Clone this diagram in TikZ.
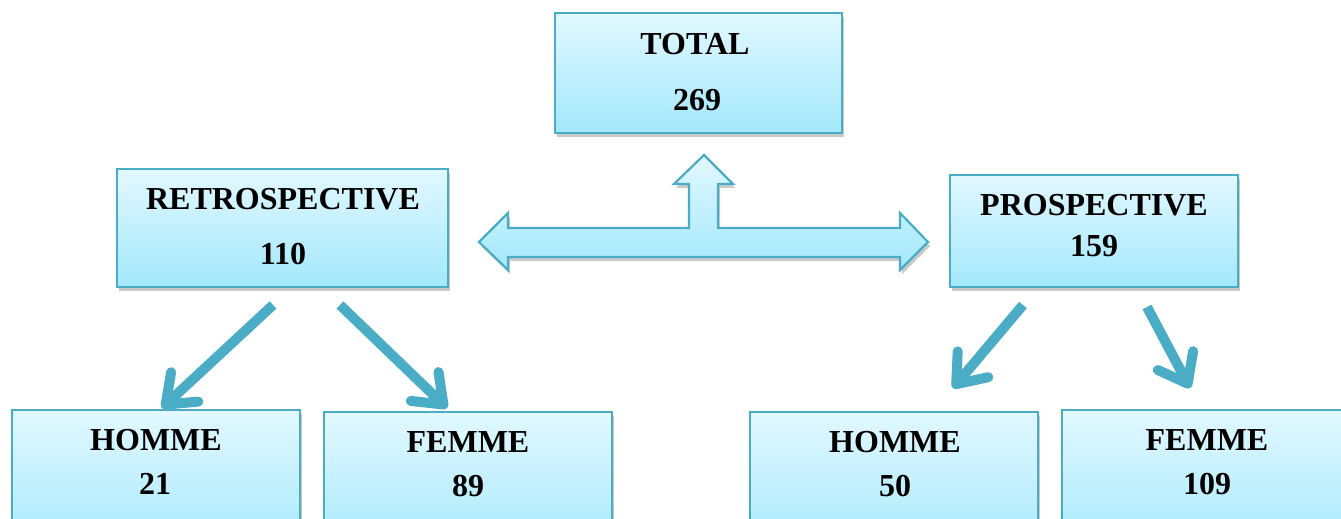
\documentclass[tikz,border=0pt]{standalone}
\usepackage{fontspec}
\setmainfont{Liberation Serif}
\usetikzlibrary{arrows.meta,shadows}
\definecolor{edgec}{RGB}{75,172,198}
\definecolor{topc}{RGB}{226,248,255}
\definecolor{botc}{RGB}{163,232,252}
\begin{document}
\begin{tikzpicture}[x=0.5pt,y=-0.5pt,
  box/.style={draw=edgec, line width=1.1pt, top color=topc, bottom color=botc,
    drop shadow={shadow xshift=1pt, shadow yshift=-2pt, opacity=0.3, fill=black!70}},
  boxnode/.style={box, rectangle, inner sep=0pt},
  lbl/.style={font=\fontsize{16}{18}\selectfont\bfseries, text=black, inner sep=0pt},
  fatarrow/.style={draw=edgec, line width=5pt, line cap=butt,
    -{Straight Barb[length=13pt,width=20pt,round]}}]
\useasboundingbox (0,0) rectangle (1341,519);
\clip (0,0) rectangle (1341,519);
% boxes
\node[boxnode, minimum width=143.5pt, minimum height=60pt] (total) at (698.5,73) {};
\node[boxnode, minimum width=165.5pt, minimum height=59pt] (retro) at (282.5,228) {};
\node[boxnode, minimum width=144pt, minimum height=56pt] (prosp) at (1094,231) {};
\node[boxnode, minimum width=144pt, minimum height=75pt] (hl) at (156,485) {};
\node[boxnode, minimum width=144pt, minimum height=75pt] (fl) at (468,487) {};
\node[boxnode, minimum width=144pt, minimum height=75pt] (hr) at (894,487) {};
\node[boxnode, minimum width=144pt, minimum height=75pt] (fr) at (1206,485) {};
% texts
\node[lbl] (totalt) at (695,44) {TOTAL};
\node[lbl] (totaln) at (697,100) {269};
\node[lbl] (retrot) at (283,199) {RETROSPECTIVE};
\node[lbl] (retron) at (283,254) {110};
\node[lbl] (prospt) at (1094,205) {PROSPECTIVE};
\node[lbl] (prospn) at (1094,246) {159};
\node[lbl] (hlt) at (156,440) {HOMME};
\node[lbl] (hln) at (155,484) {21};
\node[lbl] (flt) at (468,442) {FEMME};
\node[lbl] (fln) at (468,486) {89};
\node[lbl] (hrt) at (895,442) {HOMME};
\node[lbl] (hrn) at (895,486) {50};
\node[lbl] (frt) at (1207,440) {FEMME};
\node[lbl] (frn) at (1207,484) {109};
% tee arrow
\path[box, line join=miter] (479,242) -- (508,213) -- (508,228) -- (689,228) -- (689,184) -- (674,184)
  -- (704,155) -- (733,184) -- (718,184) -- (718,228) -- (900,228) -- (900,213) -- (928,242)
  -- (900,270) -- (900,257) -- (508,257) -- (508,270) -- cycle;
% thick arrows
\coordinate (a1s) at (273,305); \coordinate (a1e) at (162,408);
\coordinate (a2s) at (340,305); \coordinate (a2e) at (447,408);
\coordinate (a3s) at (1023,305); \coordinate (a3e) at (953,388);
\coordinate (a4s) at (1147,307); \coordinate (a4e) at (1190,388);
\draw[fatarrow] (a1s) -- (a1e);
\draw[fatarrow] (a2s) -- (a2e);
\draw[fatarrow] (a3s) -- (a3e);
\draw[fatarrow] (a4s) -- (a4e);
\end{tikzpicture}
\end{document}
